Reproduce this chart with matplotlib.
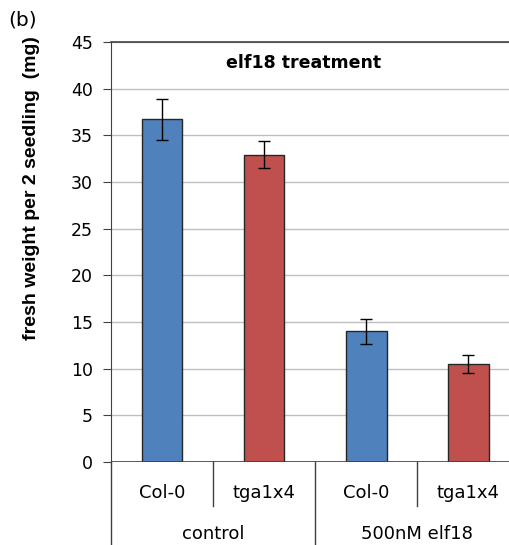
import matplotlib.pyplot as plt
import matplotlib.transforms as mtransforms

# fresh weight data, elf18 growth inhibition
genotypes = ['Col-0', 'tga1x4', 'Col-0', 'tga1x4']
groups = ['control', '500nM elf18']
weight = [36.7, 32.9, 14.0, 10.5]
err = [2.15, 1.45, 1.35, 1.0]
colors = ['#4F81BD', '#C0504D', '#4F81BD', '#C0504D']

plt.rcParams['font.family'] = ['DejaVu Sans']

fig = plt.figure(figsize=(5.09, 5.45), dpi=100)
ax = fig.add_axes([0.218, 0.152, 0.782, 0.771])

x = list(range(len(weight)))
ax.bar(x, weight, width=0.4, color=colors, edgecolor='#262626', linewidth=1.0, zorder=3)
ax.errorbar(x, weight, yerr=err, fmt='none', ecolor='black', elinewidth=1.0,
            capsize=4, capthick=1.0, zorder=4)

ax.set_ylim(0, 45)
ax.set_yticks(range(0, 46, 5))
ax.set_xlim(-0.5, 3.4)
ax.yaxis.grid(True, color='#bfbfbf', linewidth=1.0, zorder=0)
ax.axhline(45, color='#404040', linewidth=1.2, zorder=2, clip_on=False)
for s in ['top', 'right', 'bottom']:
    ax.spines[s].set_visible(False)
ax.spines['left'].set_color('#404040')
ax.axhline(0, color='#404040', linewidth=1.2, zorder=5)
ax.tick_params(axis='y', length=6, color='#404040', labelsize=12.5, pad=7)
ax.set_xticks([])

# y label in a narrower face
fig.text(32 / 509, 1 - 188 / 545, 'fresh weight per 2 seedling  (mg)', rotation=90,
         ha='center', va='center', fontsize=14, fontweight='bold',
         family=['Liberation Sans', 'DejaVu Sans'])
ax.text(1.39, 42.8, 'elf18 treatment', fontsize=12.5, fontweight='bold', ha='center', va='center')
fig.text(0.016, 0.963, '(b)', fontsize=14.5, ha='left', va='center')

# two-level category axis
trans = mtransforms.blended_transform_factory(ax.transData, ax.transAxes)
for xi, lab in zip(x, genotypes):
    ax.text(xi, -0.073, lab, transform=trans, ha='center', va='center', fontsize=13)
for xs in [0.5, 2.5]:
    ax.plot([xs, xs], [0, -0.105], transform=trans, color='#404040', lw=1.0, clip_on=False)
ax.plot([1.5, 1.5], [0, -0.2], transform=trans, color='#404040', lw=1.0, clip_on=False)
ax.plot([-0.5, -0.5], [0, -0.2], transform=trans, color='#404040', lw=1.0, clip_on=False)
for gi, lab in enumerate(groups):
    ax.text(gi * 2 + 0.5, -0.172, lab, transform=trans, ha='center', va='center', fontsize=13)

plt.savefig('out.png', dpi=100)
